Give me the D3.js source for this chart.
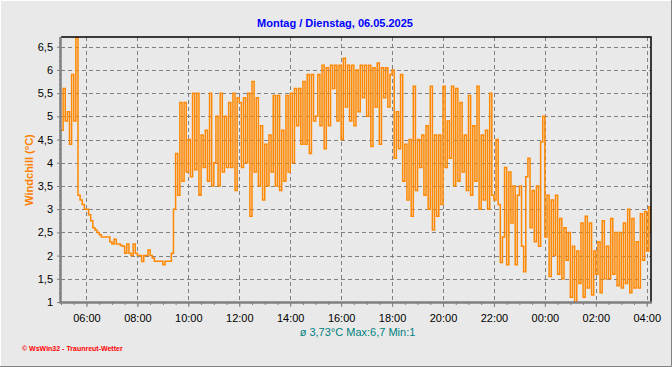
<!DOCTYPE html>
<html>
<head>
<meta charset="utf-8">
<script src="https://cdn.jsdelivr.net/npm/d3@7"></script>
<style>
  html, body { margin: 0; padding: 0; background: #e9e9e9; }
  svg { display: block; font-family: "Liberation Sans", Arial, sans-serif; }
  .axis text { font-size: 11px; fill: #000; }
  .axis line { stroke: #808080; }
  .axis path { display: none; }
</style>
</head>
<body>
<div id="container"></div>
<script>
const W = 672, H = 367;
var margin = {top: 37, right: 21, bottom: 65, left: 61};
var width = W - margin.left - margin.right;
var height = H - margin.top - margin.bottom;

// windchill readings, one every 5 minutes, starting Monday 05:00
var startTime = new Date(2025, 4, 5, 5, 0);
var endTime = new Date(2025, 4, 6, 4, 10);
var stepMinutes = 5;

var h05 = [4.7, 5.6, 4.9, 5.1, 4.4, 5.9, 4.9, 6.7, 3.3, 3.2, 3.1, 3.0];
var h06 = [3.0, 2.88, 2.75, 2.6, 2.55, 2.5, 2.45, 2.4, 2.4, 2.4, 2.4, 2.3];
var h07 = [2.25, 2.35, 2.25, 2.25, 2.22, 2.2, 2.05, 2.25, 2.05, 2.0, 2.25, 2.05];
var h08 = [2.0, 2.0, 1.87, 2.0, 2.0, 2.12, 2.0, 1.95, 1.88, 1.88, 1.88, 1.88];
var h09 = [1.8, 1.88, 1.88, 1.88, 2.05, 3.0, 4.2, 3.3, 5.3, 3.6, 5.3, 3.8];
var h10 = [4.5, 3.7, 5.5, 3.85, 5.5, 3.3, 4.6, 3.9, 4.7, 3.6, 5.5, 3.5];
var h11 = [4.0, 5.0, 3.5, 5.5, 3.8, 5.0, 3.9, 5.3, 3.9, 5.5, 3.4, 5.4];
var h12 = [5.3, 3.9, 5.4, 4.0, 5.5, 2.85, 5.75, 3.8, 5.4, 3.5, 4.8, 3.2];
var h13 = [4.4, 3.5, 4.6, 3.8, 5.45, 3.5, 5.45, 3.4, 4.7, 3.6, 5.45, 3.8];
var h14 = [5.5, 4.0, 5.6, 4.8, 5.6, 4.4, 5.75, 4.4, 5.9, 4.2, 5.9, 4.9];
var h15 = [5.0, 5.9, 4.8, 6.1, 4.3, 6.05, 4.8, 6.1, 5.6, 6.1, 4.9, 6.1];
var h16 = [4.5, 6.25, 5.2, 6.1, 4.9, 6.1, 4.8, 6.0, 5.1, 6.1, 5.4, 6.1];
var h17 = [5.0, 6.1, 4.35, 6.05, 5.2, 6.15, 4.4, 6.05, 5.4, 6.05, 5.2, 5.9];
var h18 = [6.0, 4.1, 5.1, 4.3, 5.9, 3.6, 4.4, 3.2, 4.5, 2.85, 5.65, 3.4];
var h19 = [4.5, 3.9, 4.6, 3.3, 4.8, 3.0, 5.65, 2.55, 4.6, 2.85, 4.6, 3.1];
var h20 = [5.65, 3.9, 4.9, 4.1, 5.65, 3.5, 5.6, 3.6, 5.3, 3.8, 4.6, 3.4];
var h21 = [5.45, 3.3, 4.8, 3.6, 5.65, 3.0, 4.6, 3.2, 4.7, 3.0, 5.5, 3.3];
var h22 = [3.2, 4.5, 3.1, 1.85, 2.4, 3.9, 1.8, 3.8, 2.7, 3.5, 1.8, 3.3];
var h23 = [3.5, 2.2, 1.65, 3.7, 4.1, 2.6, 3.4, 2.3, 3.5, 2.2, 4.45, 5.0];
var h00 = [2.4, 3.3, 1.55, 3.2, 2.0, 3.3, 1.6, 2.8, 1.5, 2.6, 1.9, 2.5];
var h01 = [1.1, 2.2, 1.0, 2.1, 1.4, 2.7, 1.1, 2.85, 1.3, 2.7, 1.15, 2.1];
var h02 = [1.6, 2.3, 1.2, 2.75, 1.5, 2.2, 1.5, 2.8, 1.6, 2.5, 1.35, 2.5];
var h03 = [1.3, 2.7, 1.4, 3.0, 1.2, 2.8, 1.3, 2.3, 1.3, 2.9, 1.9, 2.95];
var h04 = [2.1, 3.05, 2.5];

var yTicks = [1, 1.5, 2, 2.5, 3, 3.5, 4, 4.5, 5, 5.5, 6, 6.5];
var title = "Montag / Dienstag, 06.05.2025";
var yLabel = "Windchill  (°C)";
var stats = "ø 3,73°C  Max:6,7  Min:1";
var footer = "© WsWin32 - Traunreut-Wetter";

var values = [].concat(h05, h06, h07, h08, h09, h10, h11, h12, h13, h14, h15, h16,
	h17, h18, h19, h20, h21, h22, h23, h00, h01, h02, h03, h04);
var data = values.map( (v,i) => ({ t: d3.timeMinute.offset(startTime, i*stepMinutes), v: v }) );

var x = d3.scaleTime().domain([startTime, endTime]).range([0, width]);
var y = d3.scaleLinear().domain([1, 6.71]).range([height, 0]);

var svg = d3.select("#container").append("svg")
	.attr("width", W)
	.attr("height", H);

// frame of the whole picture
svg.append("rect").attr("width", W).attr("height", H).attr("fill", "#e9e9e9");
svg.append("path").attr("d", "M0.5," + (H-1) + "V0.5H" + (W-1)).attr("fill", "none").attr("stroke", "#fff");
svg.append("path").attr("d", "M0," + (H-0.5) + "H" + (W-0.5) + "V0").attr("fill", "none").attr("stroke", "#808080");

svg.append("text")
	.attr("x", 335)
	.attr("y", 26.5)
	.attr("text-anchor", "middle")
	.style("font-size", "11px")
	.style("font-weight", "bold")
	.style("fill", "#0000ff")
	.text(title);

svg.append("text")
	.attr("transform", "translate(33,170) rotate(-90)")
	.attr("text-anchor", "middle")
	.style("font-size", "11px")
	.style("font-weight", "bold")
	.style("fill", "#ff8000")
	.text(yLabel);

svg.append("text")
	.attr("x", 357.5)
	.attr("y", 336)
	.attr("text-anchor", "middle")
	.style("font-size", "11px")
	.style("fill", "#008080")
	.text(stats);

svg.append("text")
	.attr("x", 22)
	.attr("y", 351)
	.style("font-size", "7px")
	.style("font-weight", "bold")
	.style("fill", "#ff0000")
	.text(footer);

var g = svg.append("g")
	.attr("transform", "translate(" + margin.left + "," + margin.top + ")");

// grid
g.append("g").selectAll("line")
	.data(yTicks.slice(1))
	.enter().append("line")
	.attr("x1", 0).attr("x2", width)
	.attr("y1", d => Math.round(y(d)) + 0.5).attr("y2", d => Math.round(y(d)) + 0.5)
	.attr("stroke", "#808080")
	.attr("stroke-dasharray", "4,3");

var xMajor = d3.timeHour.every(2).range(startTime, endTime);
g.append("g").selectAll("line")
	.data(xMajor)
	.enter().append("line")
	.attr("x1", d => Math.round(x(d)) + 0.5).attr("x2", d => Math.round(x(d)) + 0.5)
	.attr("y1", 0).attr("y2", height)
	.attr("stroke", "#808080")
	.attr("stroke-dasharray", "4,3");

g.append("defs").append("clipPath").attr("id", "clip")
	.append("rect").attr("width", width).attr("height", height + 1);

var line = d3.line()
	.x(d => x(d.t))
	.y(d => y(d.v))
	.curve(d3.curveStepAfter);

g.append("path")
	.attr("clip-path", "url(#clip)")
	.attr("d", line(data))
	.attr("fill", "none")
	.attr("stroke", "#ff8800")
	.attr("stroke-width", 1.5);

// axes
g.append("g").attr("class", "axis")
	.call(d3.axisLeft(y).tickValues(d3.range(1, 6.71, 0.1)).tickSize(2).tickFormat(""));
g.append("g").attr("class", "axis")
	.call(d3.axisLeft(y).tickValues(yTicks).tickSize(4).tickPadding(4)
		.tickFormat(d => String(d).replace(".", ",")));

g.append("g").attr("class", "axis")
	.attr("transform", "translate(0," + height + ")")
	.call(d3.axisBottom(x).ticks(d3.timeMinute.every(30)).tickSize(3).tickFormat(""));
g.append("g").attr("class", "axis")
	.attr("transform", "translate(0," + height + ")")
	.call(d3.axisBottom(x).tickValues(xMajor).tickSize(5).tickPadding(7)
		.tickFormat(d3.timeFormat("%H:%M")));

g.append("path")
	.attr("d", "M0,0H" + width + "V" + height)
	.attr("fill", "none")
	.attr("stroke", "#000")
	.attr("stroke-width", 1.5);
g.append("path")
	.attr("d", "M-0.5,0V" + (height + 0.5) + "H" + (width + 1))
	.attr("fill", "none")
	.attr("stroke", "#808080")
	.attr("stroke-width", 2.5);
</script>
</body>
</html>
